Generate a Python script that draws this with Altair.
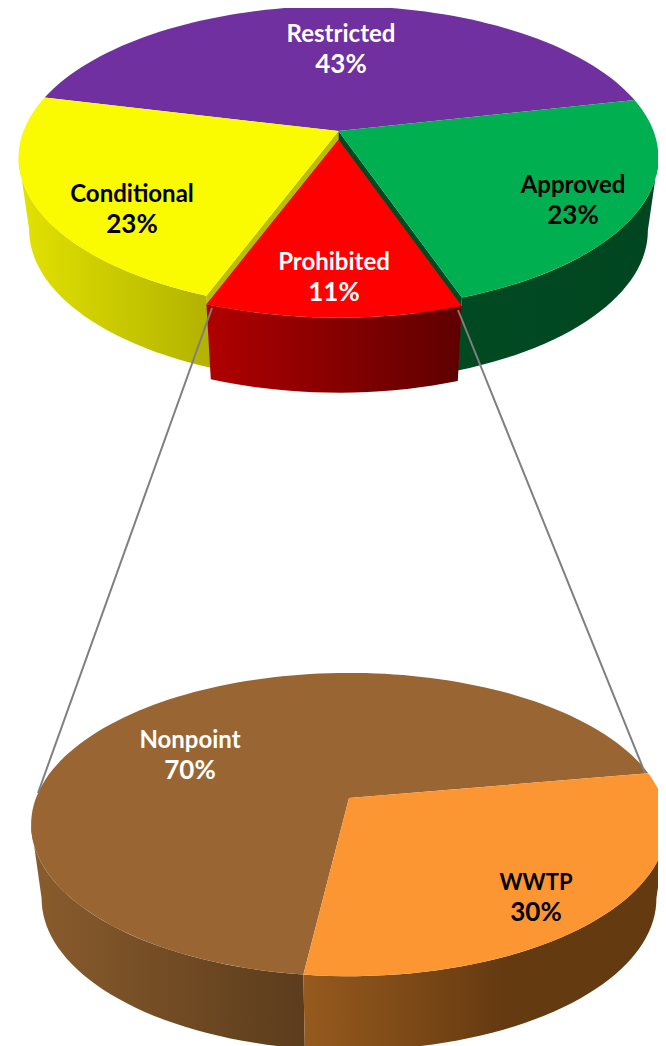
import math
import altair as alt
import pandas as pd

# ---- data (slice sizes estimated; labels show them rounded)
main_names = ["Restricted", "Approved", "Prohibited", "Conditional"]
main_shares = [42.7, 23.2, 11.0, 23.1]
detail_names = ["WWTP", "Nonpoint"]
detail_shares = [29.7, 70.3]

# ---- colours
C_PURPLE, C_GREEN, C_RED, C_YELLOW = "#7030A0", "#00B050", "#FF0000", "#FAFA00"
C_ORANGE, C_BROWN = "#FC9632", "#996633"


def grad(*stops):
    st = [{"offset": o, "color": c} for o, c in stops]
    return {"gradient": "linear", "x1": 0, "y1": 0, "x2": 1, "y2": 0, "stops": st}


# ---- canvas: data units are page pixels
W, H = 650, 1038
XS = alt.Scale(domain=[8, 8 + W])
YS = alt.Scale(domain=[8 + H, 8])
K, B = 0.175, 147.0
SHRINK = 0.967


def rim(t, x0, y0, A, sx=1.0):
    r = math.radians(t)
    v, u = math.cos(r), math.sin(r)
    return (x0 + sx * A * v / (1 + K * u), y0 - B * u / (1 + K * u))


def lower(p, x0, drop):
    return (x0 + SHRINK * (p[0] - x0), p[1] + drop)


def arc(t0, t1, x0, y0, A, sx=1.0):
    n = max(int(abs(t1 - t0) / 2), 2)
    return [rim(t0 + (t1 - t0) * i / n, x0, y0, A, sx) for i in range(n + 1)]


def poly(pts, fill):
    pts = list(pts) + [pts[0]]
    df = pd.DataFrame({"x": [p[0] for p in pts], "y": [p[1] for p in pts], "i": range(len(pts))})
    return alt.Chart(df).mark_line(filled=True, fill=fill, stroke="transparent", strokeWidth=0, clip=True).encode(
        x=alt.X("x:Q", scale=XS, axis=None),
        y=alt.Y("y:Q", scale=YS, axis=None),
        order=alt.Order("i:Q"),
    )


def wedge(t0, t1, x0, y0, A, fill, sx=1.0):
    return poly([(x0, y0)] + arc(t0, t1, x0, y0, A, sx), fill)


def wall(t0, t1, x0, y0, A, fill, drop, sx=1.0):
    top = arc(t0, t1, x0, y0, A, sx)
    return poly(top + [lower(p, x0, drop) for p in reversed(top)], fill)


def radial(t, x0, y0, A, fill, drop):
    a, p = (x0, y0), rim(t, x0, y0, A)
    return poly([a, p, lower(p, x0, drop), (x0, y0 + drop)], fill)


layers = []

# ---- lower (detail) pie
X2, Y2, A2, R2 = 349.0, 798.0, 313.0, 10.0
span_w = detail_shares[0] * 3.6
layers += [
    wall(190, 360 + R2 - span_w, X2, Y2, A2, grad((0, "#8A5C2D"), (1, "#5B3C1C")), 74),
    wall(R2 - span_w, -10, X2, Y2, A2, grad((0, "#965A1D"), (0.55, "#653A11"), (1, "#643A10")), 74),
    wedge(R2, R2 + detail_shares[1] * 3.6, X2, Y2, A2, C_BROWN),
    wedge(R2 - span_w, R2, X2, Y2, A2, C_ORANGE),
]

# ---- upper (main) pie, counter-clockwise from the right: Restricted, Conditional, Prohibited, Approved
X1, Y1, A1, R1 = 338.5, 131.0, 315.0, 12.6
purple = (R1, R1 + main_shares[0] * 3.6)
yellow = (purple[1], purple[1] + main_shares[3] * 3.6)
red = (yellow[1], yellow[1] + main_shares[2] * 3.6)
green = (red[1], red[1] + main_shares[1] * 3.6)

layers += [
    wall(190, yellow[1], X1, Y1, A1, grad((0, "#E2E200"), (1, "#B2B200")), 72),
    wall(green[0], 350, X1, Y1, A1, grad((0, "#004A22"), (1, "#004620")), 73),
    radial(yellow[1], X1, Y1, A1, "#BDBD00", 72),
    radial(green[0], X1, Y1, A1, "#004A22", 73),
    wedge(*purple, X1, Y1, A1, C_PURPLE),
    wedge(*yellow, X1, Y1, A1, C_YELLOW),
    wedge(*green, X1, Y1, A1, C_GREEN),
    wall(red[0], red[1], X1, Y1 + 8.5, A1, grad((0, "#B00000"), (1, "#5E0000")), 75),
    wedge(*red, X1, Y1 + 8.5, A1, C_RED),
]

# ---- series lines joining the two pies
for (xa, ya), (xb, yb) in [((212, 308), (38, 793)), ((458, 310), (645, 773))]:
    df = pd.DataFrame({"x": [xa, xb], "y": [ya, yb]})
    layers.append(
        alt.Chart(df).mark_line(color="#7F7F7F", strokeWidth=2).encode(
            x=alt.X("x:Q", scale=XS, axis=None), y=alt.Y("y:Q", scale=YS, axis=None)
        )
    )

# ---- labels
label_pos = {
    "Restricted": (341, 35, "white"),
    "Approved": (573, 186, "black"),
    "Prohibited": (334, 263, "white"),
    "Conditional": (132, 195, "black"),
    "WWTP": (536, 883, "black"),
    "Nonpoint": (190, 741, "white"),
}
rows = []
for name, share in list(zip(main_names, main_shares)) + list(zip(detail_names, detail_shares)):
    x, y, c = label_pos[name]
    rows.append({"x": x, "y": y, "t": name, "c": c, "s": 22 if name == "WWTP" else 24})
    rows.append({"x": x, "y": y + 30, "t": f"{round(share)}%", "c": c, "s": 26})
labels = pd.DataFrame(rows)
layers.append(
    alt.Chart(labels).mark_text(font="Lato", fontWeight="bold", align="center", baseline="middle").encode(
        x=alt.X("x:Q", scale=XS, axis=None),
        y=alt.Y("y:Q", scale=YS, axis=None),
        text="t:N",
        color=alt.Color("c:N", scale=None, legend=None),
        size=alt.Size("s:Q", scale=None, legend=None),
    )
)

chart = (
    alt.layer(*layers)
    .properties(width=W, height=H, padding=0, background="white")
    .configure_view(strokeWidth=0)
)
chart.save("out.html", embed_options={"renderer": "svg", "actions": False})
